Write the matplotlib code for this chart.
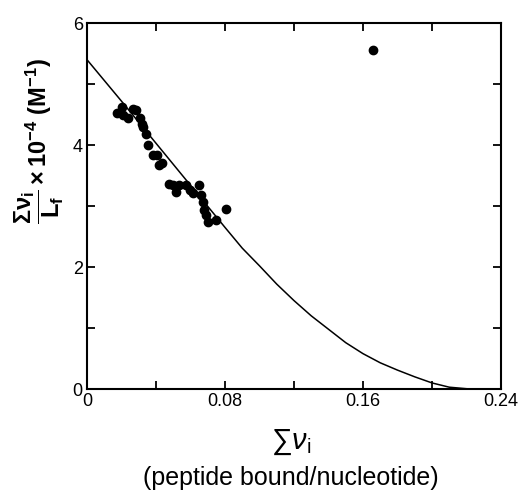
import matplotlib
matplotlib.use("Agg")
import matplotlib.pyplot as plt
from matplotlib.ticker import MultipleLocator

plt.rcParams['font.family'] = ['Liberation Sans', 'DejaVu Sans']
plt.rcParams['mathtext.fontset'] = 'custom'
plt.rcParams['mathtext.rm'] = 'Liberation Sans'
plt.rcParams['mathtext.it'] = 'Liberation Sans:italic'
plt.rcParams['mathtext.bf'] = 'Liberation Sans:bold'

# measured binding data (sum nu_i, sum nu_i / Lf x 1e-4)
nu = [0.0176, 0.0201, 0.0210, 0.0235, 0.0269, 0.0284, 0.0307, 0.0316, 0.0326,
      0.0342, 0.0355, 0.0380, 0.0403, 0.0419, 0.0432, 0.0477, 0.0500, 0.0516,
      0.0535, 0.0574, 0.0597, 0.0616, 0.0651, 0.0659, 0.0670, 0.0680, 0.0690,
      0.0699, 0.0748, 0.0804, 0.1660]
nu_over_L = [4.53, 4.62, 4.49, 4.44, 4.60, 4.57, 4.44, 4.35, 4.30,
             4.19, 4.00, 3.84, 3.84, 3.67, 3.70, 3.37, 3.34, 3.23,
             3.34, 3.34, 3.26, 3.22, 3.34, 3.18, 3.07, 2.93, 2.85,
             2.74, 2.77, 2.96, 5.56]

# fitted curve
fit_x = [0.0, 0.02, 0.04, 0.06, 0.08, 0.09, 0.10, 0.11, 0.12, 0.13, 0.14,
         0.15, 0.16, 0.17, 0.18, 0.19, 0.20, 0.21, 0.222]
fit_y = [5.40, 4.72, 4.03, 3.34, 2.65, 2.31, 2.02, 1.72, 1.45, 1.20, 0.98,
         0.76, 0.58, 0.43, 0.31, 0.20, 0.10, 0.03, 0.0]

fig = plt.figure(figsize=(5.21, 4.92), dpi=100)
ax = fig.add_axes([0.167, 0.2093, 0.7946, 0.7437])

ax.plot(fit_x, fit_y, color='black', lw=1.1)
ax.plot(nu, nu_over_L, 'o', color='black', ms=6, mec='black')

ax.set_xlim(0, 0.24)
ax.set_ylim(0, 6)
ax.xaxis.set_major_locator(MultipleLocator(0.08))
ax.xaxis.set_minor_locator(MultipleLocator(0.04))
ax.yaxis.set_major_locator(MultipleLocator(2))
ax.yaxis.set_minor_locator(MultipleLocator(1))
ax.xaxis.set_major_formatter(plt.FuncFormatter(lambda v, p: '0' if v == 0 else f'{v:.2f}'))
ax.yaxis.set_major_formatter(plt.FuncFormatter(lambda v, p: f'{v:.0f}'))

for w in ['major', 'minor']:
    ax.tick_params(which=w, direction='in', length=6, width=1.3,
                   top=True, right=True, labelsize=13, pad=3)
for s in ax.spines.values():
    s.set_linewidth(1.5)

fig.text(0.075, 0.713,
         r'$\mathbf{\dfrac{\Sigma\nu_i}{L_f}\times10^{-4}\ (M^{-1})}$',
         rotation=90, ha='center', va='center', fontsize=17, fontweight='bold')
fig.text(0.559, 0.10, r'$\sum\nu_{\mathrm{i}}$', ha='center', va='center', fontsize=21)
fig.text(0.559, 0.029, '(peptide bound/nucleotide)', ha='center', va='center',
         fontsize=18)

fig.savefig('out.png', dpi=100)
